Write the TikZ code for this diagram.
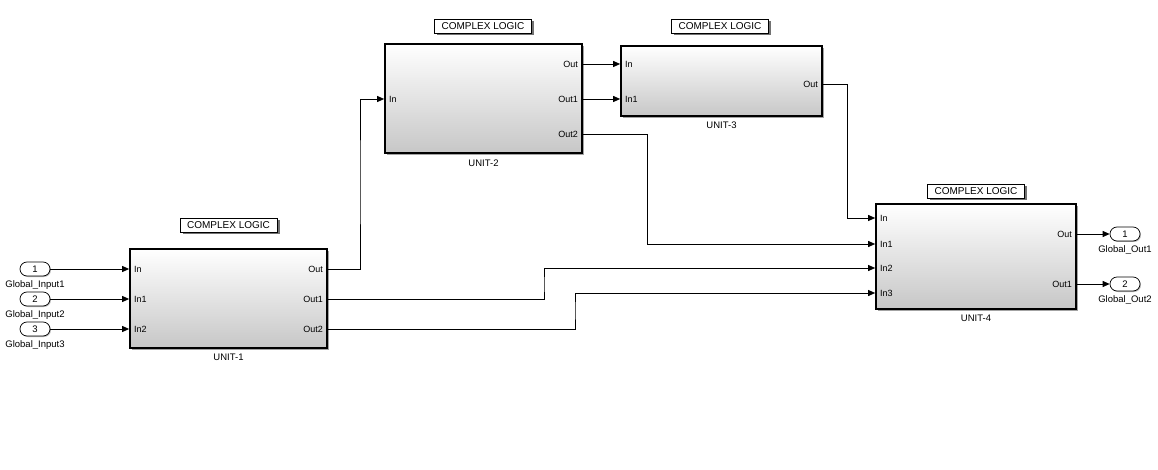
\documentclass[tikz,border=0pt]{standalone}
\usepackage{fontspec}
\setmainfont{Liberation Sans}
\usetikzlibrary{arrows.meta,shadows}
\begin{document}
\begin{tikzpicture}[x=1pt,y=-1pt,
  block/.style={draw, line width=1.7pt, inner sep=0pt,
    top color=white, middle color=black!3, bottom color=black!22,
    drop shadow={shadow xshift=1.8pt, shadow yshift=-1.8pt, fill=black!45, opacity=0.8}},
  note/.style={draw, line width=0.6pt, fill=white, inner sep=0pt,
    minimum width=97pt, minimum height=14pt, font=\fontsize{10}{12}\selectfont,
    drop shadow={shadow xshift=2.5pt, shadow yshift=-2.5pt, fill=black!65, opacity=0.85}},
  pl/.style={inner sep=0pt, font=\fontsize{9}{10}\selectfont},
  bname/.style={inner sep=0pt, font=\fontsize{9.5}{11}\selectfont},
  gport/.style={draw, line width=0.7pt, rounded corners=7pt, fill=white, inner sep=0pt,
    minimum width=30pt, minimum height=14pt, font=\fontsize{9.5}{11}\selectfont,
    drop shadow={shadow xshift=1pt, shadow yshift=-1pt, fill=black!40, opacity=0.7}},
  wire/.style={line width=0.9pt},
  arr/.style={wire, -{Triangle[length=7pt,width=6pt]}}
]
\useasboundingbox (0,0) rectangle (1158,470);

% ---------- blocks ----------
\node[block, minimum width=197pt, minimum height=99pt] (u1) at (228.5,298.5) {};
\node[block, minimum width=197pt, minimum height=109pt] (u2) at (483.5,98.5) {};
\node[block, minimum width=201pt, minimum height=70pt] (u3) at (721.5,81) {};
\node[block, minimum width=200pt, minimum height=105pt] (u4) at (976,256.5) {};

\node[bname] (n1) at (228.5,357) {UNIT-1};
\node[bname] (n2) at (483.5,163) {UNIT-2};
\node[bname] (n3) at (721.5,125) {UNIT-3};
\node[bname] (n4) at (976,318) {UNIT-4};

\node[note] (c1) at (228.5,225) {COMPLEX LOGIC};
\node[note] (c2) at (483,26) {COMPLEX LOGIC};
\node[note] (c3) at (720,26) {COMPLEX LOGIC};
\node[note] (c4) at (976,191) {COMPLEX LOGIC};

% ---------- port labels ----------
\node[pl, anchor=west] (u1i0) at (134,269) {In};
\node[pl, anchor=west] (u1i1) at (134,299) {In1};
\node[pl, anchor=west] (u1i2) at (134,329) {In2};
\node[pl, anchor=east] (u1o0) at (323,269) {Out};
\node[pl, anchor=east] (u1o1) at (323,299) {Out1};
\node[pl, anchor=east] (u1o2) at (323,329) {Out2};

\node[pl, anchor=west] (u2i0) at (389,99) {In};
\node[pl, anchor=east] (u2o0) at (578,64) {Out};
\node[pl, anchor=east] (u2o1) at (578,99) {Out1};
\node[pl, anchor=east] (u2o2) at (578,134) {Out2};

\node[pl, anchor=west] (u3i0) at (625,64) {In};
\node[pl, anchor=west] (u3i1) at (625,99) {In1};
\node[pl, anchor=east] (u3o0) at (818,84) {Out};

\node[pl, anchor=west] (u4i0) at (880,218) {In};
\node[pl, anchor=west] (u4i1) at (880,244) {In1};
\node[pl, anchor=west] (u4i2) at (880,268) {In2};
\node[pl, anchor=west] (u4i3) at (880,293) {In3};
\node[pl, anchor=east] (u4o0) at (1072,234) {Out};
\node[pl, anchor=east] (u4o1) at (1072,284) {Out1};

% ---------- global ports ----------
\node[gport] (g1) at (35,269) {1};
\node[gport] (g2) at (35,299) {2};
\node[gport] (g3) at (35,329) {3};
\node[bname] (gl1) at (35,285) {Global\_Input1};
\node[bname] (gl2) at (35,315) {Global\_Input2};
\node[bname] (gl3) at (35,345) {Global\_Input3};

\node[gport] (o1) at (1125,234) {1};
\node[gport] (o2) at (1125,284) {2};
\node[bname] (ol1) at (1125,250) {Global\_Out1};
\node[bname] (ol2) at (1125,300) {Global\_Out2};

% ---------- junction coordinates ----------
\coordinate (j1) at (360,180);
\coordinate (j2) at (544,285);
\coordinate (j3) at (575,310);
\coordinate (j4) at (647,190);
\coordinate (j5) at (847,150);

% ---------- connectors ----------
\draw[arr] (g1.east) -- (u1.west |- u1i0);
\draw[arr] (g2.east) -- (u1.west |- u1i1);
\draw[arr] (g3.east) -- (u1.west |- u1i2);

\draw[arr] (u1.east |- u1o0) -| (j1) |- (u2.west |- u2i0);
\draw[arr] (u1.east |- u1o1) -| (j2) |- (u4.west |- u4i2);
\draw[arr] (u1.east |- u1o2) -| (j3) |- (u4.west |- u4i3);

\draw[arr] (u2.east |- u2o0) -- (u3.west |- u3i0);
\draw[arr] (u2.east |- u2o1) -- (u3.west |- u3i1);
\draw[arr] (u2.east |- u2o2) -| (j4) |- (u4.west |- u4i1);

\draw[arr] (u3.east |- u3o0) -| (j5) |- (u4.west |- u4i0);

\draw[arr] (u4.east |- u4o0) -- (o1.west);
\draw[arr] (u4.east |- u4o1) -- (o2.west);
\end{tikzpicture}
\end{document}
